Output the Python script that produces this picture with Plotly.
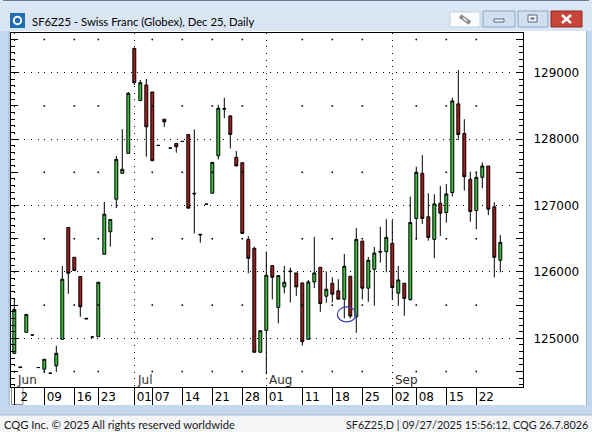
import plotly.graph_objects as go

# ---------------- data ----------------
dates = [
    "2025-06-02", "2025-06-03", "2025-06-04", "2025-06-05", "2025-06-06",
    "2025-06-09", "2025-06-10", "2025-06-11", "2025-06-12", "2025-06-13",
    "2025-06-16", "2025-06-17", "2025-06-18", "2025-06-20",
    "2025-06-23", "2025-06-24", "2025-06-25", "2025-06-26", "2025-06-27",
    "2025-06-30", "2025-07-01", "2025-07-02", "2025-07-03",
    "2025-07-07", "2025-07-08", "2025-07-09", "2025-07-10", "2025-07-11",
    "2025-07-14", "2025-07-15", "2025-07-16", "2025-07-17", "2025-07-18",
    "2025-07-21", "2025-07-22", "2025-07-23", "2025-07-24", "2025-07-25",
    "2025-07-28", "2025-07-29", "2025-07-30", "2025-07-31", "2025-08-01",
    "2025-08-04", "2025-08-05", "2025-08-06", "2025-08-07", "2025-08-08",
    "2025-08-11", "2025-08-12", "2025-08-13", "2025-08-14", "2025-08-15",
    "2025-08-18", "2025-08-19", "2025-08-20", "2025-08-21", "2025-08-22",
    "2025-08-25", "2025-08-26", "2025-08-27", "2025-08-28", "2025-08-29",
    "2025-09-02", "2025-09-03", "2025-09-04", "2025-09-05",
    "2025-09-08", "2025-09-09", "2025-09-10", "2025-09-11", "2025-09-12",
    "2025-09-15", "2025-09-16", "2025-09-17", "2025-09-18", "2025-09-19",
    "2025-09-22", "2025-09-23", "2025-09-24", "2025-09-25", "2025-09-26",
]

opens = [
    124775, 124570, 125090, 125050, 124560,
    124535, 124475, 124585, 124985, 126670,
    126220, 125930, 125290, 125020,
    125025, 126265, 126605, 127095, 127485,
    127785, 129365, 128580, 128815,
    128710, 127905, 128300, 127865, 127935,
    127965, 128070, 127185, 126555, 127020,
    127185, 127750, 128450, 128350, 127725,
    127645, 126490, 126355, 124790, 125120,
    126095, 125465, 125775, 126015, 125985,
    125835, 124985, 125850, 126070, 125635,
    125830, 125715, 125590, 125935, 125325,
    126465, 125755, 126040, 126310, 126305,
    126430, 125680, 125830, 125585,
    126805, 127485, 126830, 126490, 127035,
    126895, 127195, 128530, 128085, 127395,
    126925, 127425, 127595, 126980, 126175,
]
highs = [
    125590, 124570, 125360, 125050, 124560,
    124685, 124475, 124890, 126090, 126670,
    126220, 125930, 125300, 125020,
    125845, 127055, 126790, 127745, 128150,
    128710, 129380, 128890, 128905,
    128710, 127905, 128300, 127865, 127935,
    127965, 128070, 128145, 126565, 127020,
    127650, 128515, 128625, 128350, 127820,
    127645, 126540, 126380, 125115, 126305,
    126095, 125945, 126090, 126065, 125985,
    125835, 125880, 126530, 126070, 126010,
    125920, 125890, 126270, 125935, 126660,
    126465, 126225, 126375, 126680, 126795,
    126780, 126090, 125830, 127135,
    127585, 127760, 127185, 127170, 127295,
    127325, 128625, 129040, 128300, 127510,
    127495, 127650, 127595, 127050, 126555,
]
lows = [
    124760, 124560, 125090, 125050, 124560,
    124480, 124475, 124495, 124985, 125670,
    126020, 125325, 125290, 125020,
    125025, 126265, 126380, 126960, 127485,
    127785, 128815, 128580, 127735,
    127675, 127905, 128185, 127865, 127795,
    127965, 126960, 126580, 126440, 127020,
    127185, 127695, 128315, 127860, 127595,
    126580, 125980, 124790, 124790, 124460,
    125585, 125225, 125675, 125540, 125640,
    124890, 124985, 125755, 125400, 125535,
    125540, 125590, 125300, 125300, 125085,
    125585, 125550, 125490, 126140, 125995,
    125585, 125490, 125340, 125565,
    126490, 126720, 126470, 126205, 126540,
    126740, 127135, 127985, 127225, 126755,
    126640, 127260, 126855, 125920, 125995,
]
closes = [
    125435, 124560, 125360, 125050, 124560,
    124685, 124475, 124775, 125890, 125980,
    126020, 125475, 125300, 125020,
    125845, 126870, 126790, 127695, 127545,
    128690, 128850, 128850, 128185,
    127675, 127905, 128260, 127865, 127885,
    127965, 126960, 127175, 126565, 127020,
    127650, 128465, 128460, 128070, 127595,
    126580, 126205, 124790, 125115, 125950,
    125920, 125945, 125845, 126005, 125775,
    124950, 125850, 125985, 125525, 125740,
    125665, 125590, 126085, 125335, 126490,
    125755, 126175, 126285, 126300, 126520,
    125765, 125880, 125600, 126745,
    127500, 126805, 126520, 127025, 126885,
    127175, 128575, 128070, 127435, 126910,
    127425, 127595, 126945, 126220, 126445,
]

week_ticks = [
    "2025-06-02", "2025-06-09", "2025-06-16", "2025-06-23", "2025-07-01",
    "2025-07-07", "2025-07-14", "2025-07-21", "2025-07-28", "2025-08-01",
    "2025-08-11", "2025-08-18", "2025-08-25", "2025-09-02", "2025-09-08",
    "2025-09-15", "2025-09-22",
]
week_labels = ["2", "09", "16", "23", "01", "07", "14", "21", "28", "01",
               "11", "18", "25", "02", "08", "15", "22"]
month_starts = ["2025-06-02", "2025-07-01", "2025-08-01", "2025-09-02"]
month_labels = ["Jun", "Jul", "Aug", "Sep"]
price_levels = [125000, 126000, 127000, 128000, 129000]
half_levels = [124500, 125500, 126500, 127500, 128500, 129500]

title_text = "SF6Z25 - Swiss Franc (Globex), Dec 25, Daily"
footer_left = "CQG Inc. \u00a9 2025 All rights reserved worldwide"
footer_right = "SF6Z25,D | 09/27/2025 15:56:12, CQG 26.7.8026"
mark_date = "2025-08-21"
mark_price = 125360

# ---------------- geometry ----------------
W, H = 592, 432
ML, MR, MT, MB = 11, 69, 33, 45
PW, PH = W - ML - MR, H - MT - MB
X_RANGE = [-0.55, -0.55 + PW / 6.0]
Y_RANGE = [124267, 129598]

idx = {d: i for i, d in enumerate(dates)}
xi = list(range(len(dates)))
week_idx = [idx[d] for d in week_ticks]
month_idx = [idx[d] for d in month_starts]


def px(x):
    return (x - ML) / PW


def py(y):
    return 1 - (y - MT) / PH


def rect(x0, y0, x1, y1, fill, line=None, lw=1):
    return dict(type="rect", xref="paper", yref="paper",
                x0=px(x0), x1=px(x1), y0=py(y1), y1=py(y0),
                fillcolor=fill, layer="below",
                line=dict(color=line if line else fill, width=lw if line else 0))


def seg(x0, y0, x1, y1, color, w=1):
    return dict(type="line", xref="paper", yref="paper",
                x0=px(x0), x1=px(x1), y0=py(y0), y1=py(y1),
                line=dict(color=color, width=w), layer="above")


DOT = "1px,5.64px"
TICKFONT = dict(family="DejaVu Sans", size=12, color="black")
UIFONT = "Lato"

fig = go.Figure()

fig.add_trace(go.Candlestick(
    x=xi, open=opens, high=highs, low=lows, close=closes,
    increasing=dict(fillcolor="#3cbc3c", line=dict(color="black", width=1)),
    decreasing=dict(fillcolor="#a21c1c", line=dict(color="black", width=1)),
    whiskerwidth=0, showlegend=False, hoverinfo="skip",
))

# grid intersection dots (week separators x half-levels)
dot_x, dot_y = [], []
for w in week_idx:
    if w in month_idx:
        continue
    for lv in half_levels:
        dot_x.append(w)
        dot_y.append(lv)
fig.add_trace(go.Scatter(
    x=dot_x, y=dot_y, mode="markers", xaxis="x2", yaxis="y2",
    marker=dict(symbol="square", size=1.6, color="black", line=dict(width=0)),
    showlegend=False, hoverinfo="skip",
))

tick500 = sorted(half_levels + price_levels)
tick500_text = [str(v) if v in price_levels else "" for v in tick500]

shapes = [
    # window chrome
    rect(0, 0, 592, 31, "#dae6f4"),
    seg(3, 0.5, 589, 0.5, "#6b7b8c", 1),
    rect(10, 31, 586, 405, "white"),
    rect(0, 415, 592, 432, "#f4f5f7"),
    seg(0, 415, 592, 415, "#a9bfd6", 1),
    seg(9, 31, 9, 405, "#9fb6cf", 1),
    seg(586.5, 31, 586.5, 405, "#9fb6cf", 1),
    # icon
    rect(10, 13, 25, 28, "#1f6db3"),
    dict(type="circle", xref="paper", yref="paper", x0=px(13.8), x1=px(21.2),
         y0=py(24.2), y1=py(16.8), line=dict(color="white", width=2), layer="above"),
    # link button
    rect(450, 12, 480, 27, "#fbfcfe", "#c2cfdd"),
    seg(460, 16, 470, 23, "#8a8a8a", 4),
    seg(463, 18, 467, 21, "#fbfcfe", 1.5),
    # minimize
    rect(483, 11, 515, 27, "#cfdff0", "#8ea6c1"),
    rect(494, 19, 504, 22, "#f4f8fc", "#59697a"),
    # maximize
    rect(518, 11, 548, 27, "#cfdff0", "#8ea6c1"),
    rect(528, 15, 537, 22, "#f4f8fc", "#59697a"),
    rect(530.5, 17.5, 534.5, 19.5, "#59697a"),
    # close
    rect(551, 11, 582, 27, "#c9453a", "#8c2b22"),
    seg(562, 15, 571, 23, "white", 2.5),
    seg(562, 23, 571, 15, "white", 2.5),
    # scrollbar thumb in the label row
    rect(11.5, 387.5, 23, 404.5, "white", "#8a8a8a"),
]

# blue ellipse drawn on the chart
mi = idx[mark_date]
shapes.append(dict(type="circle", xref="x", yref="y",
                   x0=mi - 2.15, x1=mi + 0.95,
                   y0=mark_price - 113, y1=mark_price + 113,
                   line=dict(color="#3a3ab8", width=1.2), layer="above"))

annotations = [
    dict(text=title_text, xref="paper", yref="paper", x=px(30), y=py(21),
         xanchor="left", yanchor="middle", showarrow=False,
         font=dict(family=UIFONT, size=11.3, color="black")),
    dict(text=footer_left, xref="paper", yref="paper", x=px(2), y=py(424),
         xanchor="left", yanchor="middle", showarrow=False,
         font=dict(family=UIFONT, size=11.2, color="#1a1a1a")),
    dict(text=footer_right, xref="paper", yref="paper", x=px(590), y=py(424),
         xanchor="right", yanchor="middle", showarrow=False,
         font=dict(family=UIFONT, size=10.8, color="#1a1a1a")),
]
for m, lab in zip(month_idx, month_labels):
    annotations.append(dict(text=lab, x=m, xref="x", y=0, yref="y domain",
                            xanchor="left", yanchor="bottom", xshift=1, yshift=-2,
                            showarrow=False, font=dict(family="DejaVu Sans", size=12, color="#303030")))

fig.update_layout(
    width=W, height=H,
    margin=dict(l=ML, r=MR, t=MT, b=MB, pad=0),
    paper_bgcolor="#c3d8ee", plot_bgcolor="white",
    showlegend=False,
    xaxis=dict(
        range=X_RANGE, tickmode="array", tickvals=week_idx, ticktext=week_labels,
        ticks="outside", ticklen=17, tickcolor="black", tickwidth=1,
        showline=True, linecolor="black", linewidth=1, mirror=True,
        showgrid=False, zeroline=False, tickfont=TICKFONT,
        ticklabelshift=10, ticklabelstandoff=-18,
        rangeslider=dict(visible=False), fixedrange=True,
    ),
    xaxis2=dict(
        range=X_RANGE, overlaying="x", side="bottom", tickmode="array", tickvals=month_idx,
        showgrid=True, gridcolor="black", gridwidth=1, griddash=DOT,
        showticklabels=False, ticks="", showline=False, zeroline=False,
    ),
    yaxis=dict(
        range=Y_RANGE, side="right", tickmode="array", tickvals=tick500, ticktext=tick500_text,
        ticks="inside", ticklen=7, tickcolor="black", tickwidth=1,
        minor=dict(dtick=100, tick0=0, ticks="inside", ticklen=4, tickcolor="black",
                   tickwidth=1, showgrid=False),
        showline=True, linecolor="black", linewidth=1, mirror="ticks",
        showgrid=False, zeroline=False, tickfont=TICKFONT, ticklabelstandoff=7,
    ),
    yaxis2=dict(
        range=Y_RANGE, overlaying="y", side="right", tickmode="array", tickvals=price_levels,
        showgrid=True, gridcolor="black", gridwidth=1, griddash=DOT,
        showticklabels=False, ticks="", showline=False, zeroline=False,
    ),
    shapes=shapes,
    annotations=annotations,
)

fig.write_html(
    "out.html",
    config={"displayModeBar": False, "staticPlot": True},
    post_script="document.body.style.margin='0';document.body.style.overflow='hidden';",
)
